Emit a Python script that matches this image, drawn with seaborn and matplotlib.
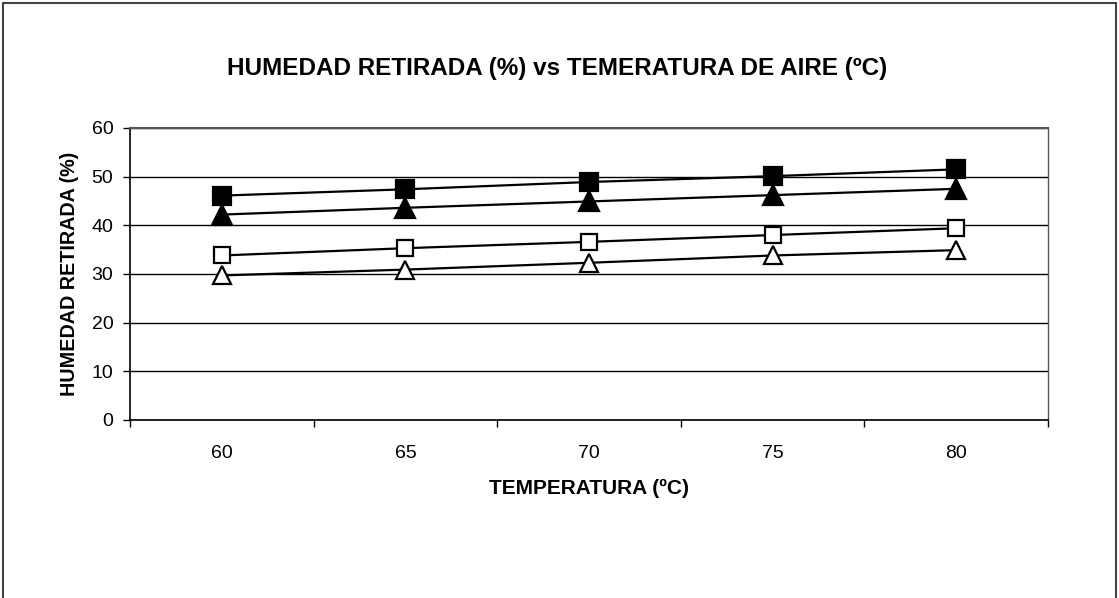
import pandas as pd
import matplotlib
matplotlib.use('Agg')
import matplotlib.pyplot as plt
import seaborn as sns
from matplotlib.patches import Rectangle

# Datos
temperaturas = ['60', '65', '70', '75', '80']
serie_cuadrado_lleno = [46.1, 47.4, 48.9, 50.1, 51.5]
serie_triangulo_lleno = [42.2, 43.6, 44.9, 46.2, 47.5]
serie_cuadrado_vacio = [33.8, 35.3, 36.6, 38.0, 39.4]
serie_triangulo_vacio = [29.7, 30.9, 32.3, 33.8, 34.9]

sns.set_style('white')
plt.rcParams['font.family'] = ['Liberation Sans', 'DejaVu Sans']
plt.rcParams['text.color'] = 'black'
plt.rcParams['axes.labelcolor'] = 'black'
plt.rcParams['xtick.color'] = 'black'
plt.rcParams['ytick.color'] = 'black'

fig = plt.figure(figsize=(11.19, 5.98), dpi=100)
ax = fig.add_axes([0.1162, 0.2977, 0.8204, 0.4883])

estilos = [
    (serie_cuadrado_lleno, 's', 'black', 13),
    (serie_triangulo_lleno, '^', 'black', 14),
    (serie_cuadrado_vacio, 's', 'white', 11),
    (serie_triangulo_vacio, '^', 'white', 13),
]
for valores, marcador, relleno, tam in estilos:
    df = pd.DataFrame({'temperatura': temperaturas, 'humedad': valores})
    sns.lineplot(data=df, x='temperatura', y='humedad', ax=ax, color='black',
                 linewidth=1.6, marker=marcador, markersize=tam,
                 markerfacecolor=relleno, markeredgecolor='black',
                 markeredgewidth=1.6, zorder=3)

ax.set_xlim(-0.5, 4.5)
ax.set_ylim(0, 60)
ax.set_yticks(range(0, 61, 10))
ax.yaxis.grid(True, color='black', linewidth=1)
ax.set_axisbelow(True)

# marcas del eje x entre categorias
ax.set_xticks(range(len(temperaturas)))
ax.set_xticklabels(temperaturas)
ax.set_xticks([i - 0.5 for i in range(len(temperaturas) + 1)], minor=True)
ax.tick_params(axis='x', which='major', length=0, pad=18, labelsize=14)
ax.tick_params(axis='x', which='minor', length=5, width=1, direction='out',
               color='black', bottom=True)
ax.tick_params(axis='y', length=5, width=1, direction='out', color='black',
               left=True, labelsize=14, pad=7)

for lado in ['left', 'bottom']:
    ax.spines[lado].set_color('black')
    ax.spines[lado].set_linewidth(1.2)
ax.spines['top'].set_color('#555555')
ax.spines['top'].set_linewidth(1.5)
ax.spines['right'].set_color('#555555')
ax.spines['right'].set_linewidth(1)

ax.set_xlabel('TEMPERATURA (ºC)', fontsize=15, fontweight='bold', labelpad=12)
ax.set_ylabel('HUMEDAD RETIRADA (%)', fontsize=14.2, fontweight='bold', labelpad=9)
fig.text(0.498, 0.885, 'HUMEDAD RETIRADA (%) vs TEMERATURA DE AIRE (ºC)',
         ha='center', va='center', fontsize=17.5, fontweight='bold')

# marco exterior del grafico
fig.patches.append(Rectangle((0.003, -0.02), 0.994, 1.015, transform=fig.transFigure,
                             fill=False, edgecolor='#444444', linewidth=1.5))

fig.savefig('out.png', dpi=100)
